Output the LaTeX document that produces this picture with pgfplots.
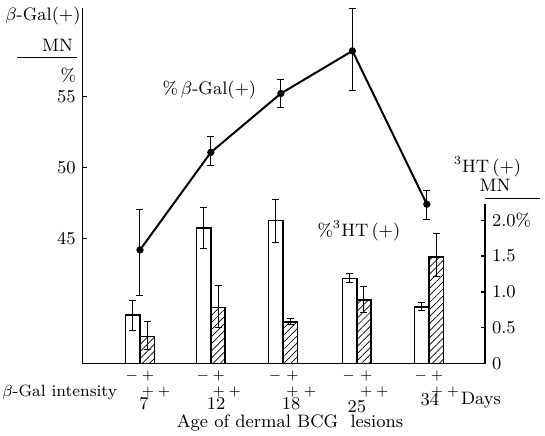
\documentclass[border=0pt]{standalone}
\usepackage{pgfplots}
\usepackage{pgfplotstable}
\pgfplotsset{compat=1.18}
\usetikzlibrary{patterns.meta}

% line: percent beta-Gal(+) of MN (left axis)
\pgfplotstableread{
x     y      ep    em
0     44.18  2.82  3.18
0.98  51.05  1.10  0.95
1.95  55.20  1.00  1.00
2.94  58.20  3.00  2.80
3.97  47.40  0.95  1.10
}\galline
% bars: percent 3HT(+) of MN (right axis), white = -, hatched = +
\pgfplotstableread{
x     y     ep    em
-0.10 0.68  0.20  0.22
0.88  1.89  0.29  0.29
1.88  2.00  0.29  0.31
2.90  1.19  0.07  0.06
3.90  0.79  0.06  0.05
}\barneg
\pgfplotstableread{
x     y     ep    em
0.10  0.38  0.20  0.19
1.08  0.78  0.31  0.28
2.08  0.58  0.05  0.04
3.10  0.89  0.19  0.18
4.10  1.49  0.32  0.28
}\barpos

\begin{document}
\begin{tikzpicture}[font=\fontsize{9}{11}\selectfont]
\useasboundingbox (-41.35pt,-35.75pt) rectangle (231.15pt,181.75pt);
\pgfplotsset{
  every axis/.append style={
    scale only axis, width=201.15pt, height=177.75pt,
    xmin=-0.793, xmax=4.775, clip=false,
    tick align=inside, major tick length=2pt,
    tick style={line width=0.7pt, black},
  },
  ebar/.style={error bars/.cd, y dir=both, y explicit,
    error bar style={line width=0.5pt},
    error mark options={rotate=90, mark size=1.75pt, line width=0.5pt}},
}
\begin{axis}[
  ymin=36.18, ymax=61.22,
  axis x line*=bottom, axis y line*=left,
  axis line style={-, line width=0.8pt},
  xtick=\empty, ytick={45,50,55},
]
  \addplot[black, line width=1pt, mark=*, mark size=1.3pt, ebar]
    table[x=x, y=y, y error plus=ep, y error minus=em] {\galline};
  \node at (axis cs:0.96,55.44) {\%\,$\beta$-Gal$(+)$};
  \node at (axis cs:-1.343,60.65) {$\beta$-Gal$(+)$};
  \node at (axis cs:-1.142,58.61) {MN};
  \draw[line width=0.6pt] (axis cs:-1.707,57.75) -- (axis cs:-0.868,57.75);
  \node at (axis cs:-0.992,56.5) {\%};
\end{axis}
\begin{axis}[
  ymin=0, ymax=4.965,
  axis x line=none, axis y line*=right,
  y axis line style={draw=none},
  ytick={0,0.5,1,1.5,2},
  yticklabels={0,0.5,1.0,1.5,2.0\%},
]
  \addplot[ybar, bar width=0.2, bar shift=0pt, draw=black, fill=white,
    line width=0.8pt, ebar]
    table[x=x, y=y, y error plus=ep, y error minus=em] {\barneg};
  \addplot[ybar, bar width=0.2, bar shift=0pt, draw=black,
    pattern={Lines[angle=45, distance=2.5pt, line width=0.35pt]},
    line width=0.8pt, ebar]
    table[x=x, y=y, y error plus=ep, y error minus=em] {\barpos};
  \draw[line width=0.8pt] (axis cs:4.775,0) -- (axis cs:4.775,2.23);
  \node at (axis cs:3.03,1.85) {\%$^3$HT\,$(+)$};
  \node[anchor=west] at (axis cs:4.245,2.749) {$^3$HT\,$(+)$};
  \node at (axis cs:4.913,2.493) {MN};
  \draw[line width=0.6pt] (axis cs:4.775,2.307) -- (axis cs:5.536,2.307);
  % beta-Gal intensity labels under each group
  \begin{scope}[every node/.style={inner sep=0.3pt}]
  \begin{scope}[font=\fontsize{7.5}{8}\selectfont]
  \node at (axis cs:-0.111,-0.175) {$-$};
  \node at (axis cs:0.869,-0.175) {$-$};
  \node at (axis cs:1.869,-0.175) {$-$};
  \node at (axis cs:2.889,-0.175) {$-$};
  \node at (axis cs:3.889,-0.175) {$-$};
  \node at (axis cs:0.111,-0.175) {$+$};
  \node at (axis cs:1.091,-0.175) {$+$};
  \node at (axis cs:2.111,-0.175) {$+$};
  \node at (axis cs:3.131,-0.175) {$+$};
  \node at (axis cs:4.111,-0.175) {$+$};
  \node at (axis cs:0.111,-0.395) {$+$};
  \node at (axis cs:0.332,-0.395) {$+$};
  \node at (axis cs:1.091,-0.395) {$+$};
  \node at (axis cs:1.312,-0.395) {$+$};
  \node at (axis cs:2.111,-0.395) {$+$};
  \node at (axis cs:2.352,-0.395) {$+$};
  \node at (axis cs:3.131,-0.395) {$+$};
  \node at (axis cs:3.352,-0.395) {$+$};
  \node at (axis cs:4.111,-0.395) {$+$};
  \node at (axis cs:4.332,-0.395) {$+$};
  \end{scope}
  \node[anchor=east, font=\fontsize{8.2}{10}\selectfont] at (axis cs:-0.305,-0.405) {$\beta$-Gal intensity};
  \node at (axis cs:0.055,-0.56) {7};
  \node at (axis cs:1.052,-0.56) {12};
  \node at (axis cs:2.09,-0.56) {18};
  \node at (axis cs:3.003,-0.61) {25};
  \node at (axis cs:4.013,-0.51) {34};
  \node at (axis cs:4.72,-0.51) {Days};
  \node at (axis cs:2.076,-0.835) {Age of dermal BCG\ \ lesions};
  \end{scope}
\end{axis}
\end{tikzpicture}
\end{document}
